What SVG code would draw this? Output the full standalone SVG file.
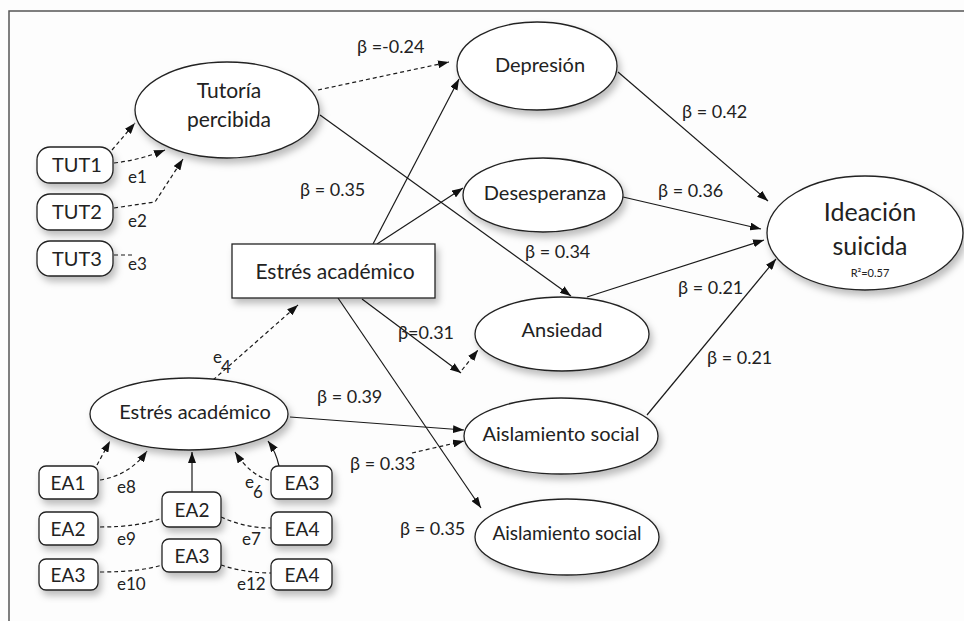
<svg xmlns="http://www.w3.org/2000/svg" width="964" height="621" viewBox="0 0 964 621">
<defs>
<marker id="ah" markerUnits="userSpaceOnUse" markerWidth="11" markerHeight="8" refX="11" refY="4" orient="auto"><path d="M0,0 L11,4 L0,8 z" fill="#111"/></marker>
<filter id="sh" x="-20%" y="-20%" width="150%" height="160%"><feDropShadow dx="3" dy="5" stdDeviation="3.5" flood-color="#000" flood-opacity="0.25"/></filter>
<style>
.n{fill:#fff;stroke:#222;stroke-width:1.3;filter:url(#sh)}
.t{font-family:Lato,"Open Sans",sans-serif;fill:#222;text-anchor:middle}
.l{font-family:Lato,"Open Sans",sans-serif;fill:#222;font-size:18px}
.e{font-family:Lato,"Open Sans",sans-serif;fill:#222;font-size:17px}
.c{fill:none;stroke:#1a1a1a;stroke-width:1.2}
.d{fill:none;stroke:#1a1a1a;stroke-width:1.2;stroke-dasharray:4 3}
.a{marker-end:url(#ah)}
</style>
</defs>
<rect width="964" height="621" fill="#fdfdfd"/>
<path d="M9,621 L9,11 L964,11" fill="none" stroke="#555" stroke-width="1.5"/>

<g id="connectors">
<path class="d a" d="M112,150 L135,123"/>
<path class="d a" d="M114,163 Q140,160 165,150"/>
<path class="d a" d="M114,208 L155,202 L183,159"/>
<path class="d" d="M114,255 L133,255"/>
<path class="d a" d="M318,90 L449,62"/>
<path class="c a" d="M320,115 L571,296"/>
<path class="c a" d="M373,244 L459,79"/>
<path class="c a" d="M377,244 L463,188"/>
<path class="c a" d="M618,72 L768,201"/>
<path class="c a" d="M623,197 L761,229"/>
<path class="c a" d="M587,297 L764,240"/>
<path class="c a" d="M647,415 L776,259"/>
<path class="c a" d="M362,299 L461,373"/>
<path class="d a" d="M462,370 L478,350"/>
<path class="c a" d="M338,298 L481,508"/>
<path class="d a" d="M213,380 L298,305"/>
<path class="c a" d="M290,417 L464,430"/>
<path class="d a" d="M412,453 L464,441"/>
<path class="d a" d="M97,465 L110,441"/>
<path class="d a" d="M100,480 Q130,475 147,451"/>
<path class="c a" d="M192,492 L192,452"/>
<path class="c a" d="M279,466 Q276,452 268,441"/>
<path class="d a" d="M269,480 Q250,475 235,452"/>
<path class="d" d="M100,527 Q140,527 162,518"/>
<path class="d" d="M221,517 Q245,528 271,528"/>
<path class="d" d="M100,572 Q140,572 162,565"/>
<path class="d" d="M221,565 Q245,573 271,573"/>
</g>

<g id="tutoria"><ellipse class="n" cx="227" cy="110" rx="92" ry="48"/><text class="t" x="229" y="98" font-size="21">Tutoría</text><text class="t" x="229" y="127" font-size="21">percibida</text></g>
<g id="tut1"><rect class="n" x="37" y="147" width="76" height="36" rx="13"/><text class="t" x="77" y="172" font-size="20">TUT1</text></g>
<g id="tut2"><rect class="n" x="37" y="194" width="76" height="36" rx="13"/><text class="t" x="77" y="219" font-size="20">TUT2</text></g>
<g id="tut3"><rect class="n" x="37" y="241" width="76" height="35" rx="13"/><text class="t" x="77" y="266" font-size="20">TUT3</text></g>
<g id="estres-box"><rect class="n" x="232" y="244" width="203" height="54"/><text class="t" x="335" y="279" font-size="21">Estrés académico</text></g>
<g id="depresion"><ellipse class="n" cx="537" cy="66" rx="80" ry="44"/><text class="t" x="540" y="72" font-size="20">Depresión</text></g>
<g id="desesperanza"><ellipse class="n" cx="543" cy="195" rx="80" ry="37"/><text class="t" x="545" y="200" font-size="20">Desesperanza</text></g>
<g id="ansiedad"><ellipse class="n" cx="562" cy="334" rx="87" ry="37"/><text class="t" x="562" y="337" font-size="20">Ansiedad</text></g>
<g id="aislamiento1"><ellipse class="n" cx="561" cy="436" rx="97" ry="38"/><text class="t" x="561" y="441" font-size="20">Aislamiento social</text></g>
<g id="aislamiento2"><ellipse class="n" cx="567" cy="537" rx="92" ry="38"/><text class="t" x="567" y="540" font-size="19">Aislamiento social</text></g>
<g id="ideacion"><ellipse class="n" cx="865" cy="233" rx="98" ry="57"/><text class="t" x="870" y="221" font-size="25">Ideación</text><text class="t" x="870" y="255" font-size="25">suicida</text><text class="t" x="870" y="277" font-size="11">R²=0.57</text></g>
<g id="estres-latent"><ellipse class="n" cx="189" cy="414" rx="99" ry="36"/><text class="t" x="195" y="419" font-size="20">Estrés académico</text></g>
<g id="ea1"><rect class="n" x="39" y="466" width="59" height="33" rx="7"/><text class="t" x="68" y="490" font-size="19">EA1</text></g>
<g id="ea2-left"><rect class="n" x="39" y="512" width="59" height="33" rx="7"/><text class="t" x="68" y="536" font-size="19">EA2</text></g>
<g id="ea3-left"><rect class="n" x="39" y="559" width="59" height="31" rx="7"/><text class="t" x="68" y="582" font-size="19">EA3</text></g>
<g id="ea2-mid"><rect class="n" x="162" y="492" width="59" height="35" rx="7"/><text class="t" x="192" y="517" font-size="19">EA2</text></g>
<g id="ea3-mid"><rect class="n" x="162" y="539" width="59" height="33" rx="7"/><text class="t" x="192" y="563" font-size="19">EA3</text></g>
<g id="ea3-right"><rect class="n" x="271" y="466" width="61" height="33" rx="7"/><text class="t" x="302" y="490" font-size="19">EA3</text></g>
<g id="ea4-right"><rect class="n" x="271" y="512" width="61" height="33" rx="7"/><text class="t" x="302" y="536" font-size="19">EA4</text></g>
<g id="ea4-right2"><rect class="n" x="271" y="559" width="61" height="31" rx="7"/><text class="t" x="302" y="582" font-size="19">EA4</text></g>

<g id="labels">
<text class="e" x="128" y="183">e1</text>
<text class="e" x="128" y="227">e2</text>
<text class="e" x="128" y="270">e3</text>
<text class="e" x="213" y="363">e</text><text class="e" x="221" y="373" font-size="14">4</text>
<text class="e" x="117" y="493">e8</text>
<text class="e" x="245" y="488">e</text><text class="e" x="253" y="498" font-size="14">6</text>
<text class="e" x="117" y="545">e9</text>
<text class="e" x="242" y="545">e7</text>
<text class="e" x="117" y="590">e10</text>
<text class="e" x="237" y="590">e12</text>
<text class="l" x="357" y="53">β =-0.24</text>
<text class="l" x="300" y="196">β = 0.35</text>
<text class="l" x="525" y="258">β = 0.34</text>
<text class="l" x="682" y="118">β = 0.42</text>
<text class="l" x="658" y="197">β = 0.36</text>
<text class="l" x="678" y="294">β = 0.21</text>
<text class="l" x="707" y="364">β = 0.21</text>
<text class="l" x="398" y="339">β=0.31</text>
<text class="l" x="317" y="403">β = 0.39</text>
<text class="l" x="350" y="470">β = 0.33</text>
<text class="l" x="400" y="535">β = 0.35</text>
</g>
</svg>
